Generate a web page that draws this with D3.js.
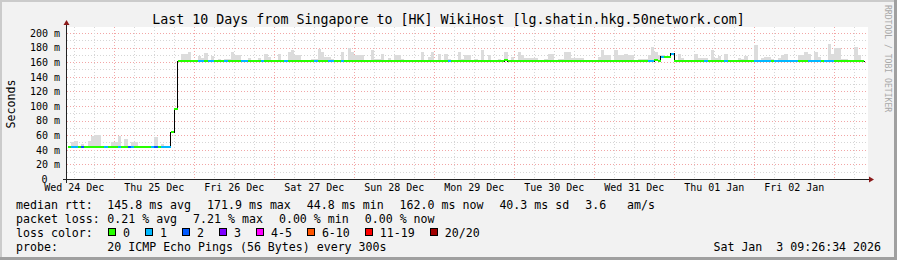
<!DOCTYPE html>
<html>
<head>
<meta charset="utf-8">
<script src="https://cdn.jsdelivr.net/npm/d3@7"></script>
<style>
  html, body { margin: 0; padding: 0; background: #f2f2f2; }
  svg text { font-family: "DejaVu Sans Mono", monospace; white-space: pre; }
</style>
</head>
<body>
<div id="chart"></div>
<script>
const _ = null; // no smoke above the median in that hour

// hourly bins, first one starts Dec 24 10:00, one row per calendar day
const firstBin = new Date(2025, 11, 24, 10);
const viewStart = new Date(2025, 11, 24, 9, 40);
const viewEnd = new Date(2026, 0, 3, 9, 40);

// highest ping of each bin (ms), the grey smoke
const smokeMax = [
  _, 51, 53, _, 49, _, 53, 60, 61, 61, _, _, _, 52,                                      // Dec 24
  52, 60, _, 55, _, 52, 52, _, _, _, _, _, 58, _, 49, _, _, _, _, _, 172, 172, 175, _,      // Dec 25
  _, 169, 166, 173, _, 169, _, 165, _, 165, 165, 175, 170, 170, _, _, 166, _, _, 167, _, 172, 168, _, // Dec 26
  _, 172, _, _, 175, 178, 170, 170, _, _, _, 165, 165, 179, 174, 168, 168, 165, _, _, 175, _, 180, 175, // Dec 27
  171, 171, 171, _, _, 178, 165, 165, 172, _, 166, _, 170, 170, 165, _, _, _, _, _, 175, _, 168, 175, // Dec 28
  _, 172, _, 172, 165, _, _, 174, 165, 170, 170, _, 165, _, 177, _, 170, _, _, 165, _, 175, _, 168,   // Dec 29
  _, 175, 170, 167, 167, 167, 167, _, _, 165, 172, 172, _, 165, 165, 175, 175, 167, 167, 167, 167, _, _, _, // Dec 30
  _, 168, 178, 170, 170, _, 178, 170, 170, 172, 170, 170, _, 165, 165, 165, 170, 182, 175, 170, 170, _, _, _, // Dec 31
  _, 172, 167, _, _, _, 172, 166, 166, 166, _, 177, 167, 169, _, 172, _, _, _, 166, 165, 169, _, _,   // Jan 01
  184, _, 166, 168, 168, 165, _, 167, 170, 172, _, _, _, 170, 170, 175, 172, _, 175, 168, _, _, 186, 172, // Jan 02
  180, 180, 165, 165, _, _, 182, 170, _                                                   // Jan 03
];

// median rtt of each bin (ms)
const median = [
  45, 45, 45, 45, 45, 45, 45, 45, 45, 45, 45, 45, 45, 45,
  45, 45, 45, 45, 45, 45, 45, 45, 45, 45, 45, 45, 45, 45, 45, 45, 45, 65, 97, 162, 162, 162, 162, 162,
  162, 162, 162, 162, 162, 162, 162, 162, 162, 162, 162, 162, 162, 162, 162, 162, 162, 162, 162, 162, 162, 162, 162, 162,
  162, 162, 162, 162, 162, 162, 162, 162, 162, 162, 162, 162, 162, 162, 162, 162, 162, 162, 162, 162, 162, 162, 162, 162,
  162, 162, 162, 162, 162, 162, 162, 162, 162, 162, 162, 162, 162, 162, 162, 162, 162, 162, 162, 162, 162, 162, 162, 162,
  162, 162, 162, 162, 162, 162, 162, 162, 162, 162, 162, 162, 162, 162, 162, 162, 162, 162, 162, 162, 162, 164, 162, 162,
  162, 162, 162, 162, 162, 162, 162, 162, 162, 162, 162, 162, 162, 162, 162, 162, 162, 162, 162, 162, 162, 162, 162, 162,
  162, 162, 162, 162, 162, 162, 162, 162, 162, 162, 162, 162, 162, 162, 162, 162, 162, 162, 164, 163, 168, 168, 168, 172,
  162, 162, 162, 162, 162, 162, 162, 162, 162, 162, 162, 162, 162, 162, 162, 162, 162, 162, 162, 162, 162, 162, 162, 162,
  162, 162, 162, 162, 162, 162, 162, 162, 162, 162, 162, 162, 162, 162, 162, 162, 162, 162, 162, 162, 162, 162, 162, 162,
  162, 162, 162, 162, 162, 162, 162, 162, 162
];

// lost pings (of 20) in each bin
const lossCount = [
  0, 1, 1, 0, 2, 0, 0, 0, 0, 0, 0, 1, 0, 0,
  0, 1, 0, 0, 2, 1, 0, 0, 0, 0, 0, 1, 2, 0, 1, 1, 1, 0, 0, 0, 0, 0, 0, 0,
  0, 1, 1, 0, 1, 1, 0, 0, 0, 1, 0, 0, 0, 0, 1, 1, 0, 0, 0, 0, 1, 0, 0, 0,
  0, 0, 0, 1, 0, 0, 0, 0, 0, 0, 0, 0, 1, 0, 0, 0, 1, 1, 0, 0, 1, 0, 0, 0,
  0, 0, 0, 0, 0, 0, 0, 0, 0, 0, 0, 0, 0, 0, 0, 0, 0, 0, 0, 0, 0, 0, 0, 0,
  0, 0, 0, 0, 1, 0, 0, 0, 0, 0, 0, 0, 0, 0, 0, 0, 0, 0, 0, 0, 0, 0, 0, 0,
  0, 0, 0, 0, 0, 0, 0, 0, 0, 0, 0, 0, 0, 0, 0, 0, 0, 0, 0, 0, 0, 0, 0, 0,
  0, 0, 0, 0, 0, 0, 0, 0, 0, 0, 0, 0, 0, 0, 0, 0, 1, 1, 0, 0, 1, 0, 0, 1,
  0, 0, 0, 0, 0, 0, 0, 0, 0, 1, 0, 0, 0, 0, 0, 1, 0, 0, 0, 0, 0, 0, 0, 0,
  1, 1, 1, 1, 1, 0, 1, 1, 1, 1, 1, 1, 1, 0, 0, 0, 1, 1, 1, 1, 0, 1, 1, 1,
  0, 0, 0, 0, 0, 0, 0, 0, 0
];

const yTicks = [0, 20, 40, 60, 80, 100, 120, 140, 160, 180, 200];
const dayLabels = ["Wed 24 Dec", "Thu 25 Dec", "Fri 26 Dec", "Sat 27 Dec", "Sun 28 Dec",
                   "Mon 29 Dec", "Tue 30 Dec", "Wed 31 Dec", "Thu 01 Jan", "Fri 02 Jan"];

const rttStats = ["145.8 ms avg", "171.9 ms max", "44.8 ms min", "162.0 ms now", "40.3 ms sd", "3.6   am/s"];
const lossStats = ["0.21 % avg", "7.21 % max", "0.00 % min", "0.00 % now"];
const lossLegend = ["0", "1", "2", "3", "4-5", "6-10", "11-19", "20/20"];
const lossColors = ["#26ff00", "#00b8ff", "#0059ff", "#7e00ff", "#ff00ff", "#ff5500", "#ff0000", "#a10000"];

const title = "Last 10 Days from Singapore to [HK] WikiHost [lg.shatin.hkg.50network.com]";
const probeText = "20 ICMP Echo Pings (56 Bytes) every 300s";
const stamp = "Sat Jan  3 09:26:34 2026";

const W = 897, H = 260;
const svg = d3.select('#chart').append('svg')
    .attr('width', W)
    .attr('height', H);

// frame
svg.append('rect').attr('width', W).attr('height', H).attr('fill', '#f2f2f2');
svg.append('rect').attr('x', 0).attr('y', 0).attr('width', W).attr('height', 2).attr('fill', '#cbcbcb');
svg.append('rect').attr('x', 0).attr('y', 0).attr('width', 2).attr('height', H).attr('fill', '#cbcbcb');
svg.append('rect').attr('x', 0).attr('y', H - 3).attr('width', W).attr('height', 3).attr('fill', '#a0a0a0');
svg.append('rect').attr('x', W - 3).attr('y', 0).attr('width', 3).attr('height', H).attr('fill', '#a0a0a0');

const x = d3.scaleTime().domain([viewStart, viewEnd]).range([66.5, 866.5]);
const y = d3.scaleLinear().domain([0, 208.9]).range([179.5, 27]);
const px = v => Math.floor(v) + 0.5;

// canvas
svg.append('rect')
    .attr('x', 67).attr('y', 27)
    .attr('width', 801).attr('height', 153)
    .attr('fill', '#ffffff');

const grid = svg.append('g').attr('shape-rendering', 'crispEdges');

// horizontal grid, minor every 10 ms, major every 20 ms
d3.range(10, 201, 10).forEach(v => {
    grid.append('line')
        .attr('x1', 67).attr('x2', 868)
        .attr('y1', px(y(v))).attr('y2', px(y(v)))
        .attr('stroke', v % 20 === 0 ? '#f2a6a6' : '#d6d6d6')
        .attr('stroke-dasharray', '1,2');
});

// vertical grid, minor every 6 hours, major at midnight
d3.timeHour.every(6).range(viewStart, viewEnd).forEach(t => {
    const major = t.getHours() === 0;
    grid.append('line')
        .attr('x1', px(x(t))).attr('x2', px(x(t)))
        .attr('y1', 27).attr('y2', 179)
        .attr('stroke', major ? '#f2a6a6' : '#d6d6d6')
        .attr('stroke-dasharray', '1,2');
});

const bins = median.map((m, i) => ({
    t0: d3.timeHour.offset(firstBin, i),
    t1: d3.timeHour.offset(firstBin, i + 1),
    med: m,
    top: smokeMax[i],
    loss: lossCount[i]
}));

// smoke
svg.append('g').attr('shape-rendering', 'crispEdges')
    .selectAll('rect')
    .data(bins.filter(b => b.top !== null && b.top > b.med))
    .join('rect')
    .attr('x', b => x(b.t0))
    .attr('width', b => x(b.t1) - x(b.t0))
    .attr('y', b => y(b.top))
    .attr('height', b => y(b.med) - y(b.top))
    .attr('fill', '#dcdcdc');

// black step line under the coloured median
const stepPts = bins.map(b => [b.t0, b.med]);
stepPts.push([bins[bins.length - 1].t1, bins[bins.length - 1].med]);
svg.append('path')
    .attr('d', d3.line().x(d => px(x(d[0]))).y(d => y(d[1])).curve(d3.curveStepAfter)(stepPts))
    .attr('fill', 'none')
    .attr('stroke', '#000')
    .attr('stroke-width', 1)
    .attr('shape-rendering', 'crispEdges');

function lossColor(n) {
    if (n <= 3) return lossColors[n];
    if (n <= 5) return lossColors[4];
    if (n <= 10) return lossColors[5];
    if (n <= 19) return lossColors[6];
    return lossColors[7];
}

svg.append('g')
    .selectAll('rect')
    .data(bins)
    .join('rect')
    .attr('x', b => x(b.t0))
    .attr('width', b => x(b.t1) - x(b.t0))
    .attr('y', b => Math.round(y(b.med)) - 1)
    .attr('height', 2)
    .attr('fill', b => lossColor(b.loss))
    .attr('shape-rendering', 'crispEdges');

// axes
const axis = svg.append('g').attr('shape-rendering', 'crispEdges');
axis.append('line').attr('x1', 63).attr('x2', 870).attr('y1', 179.5).attr('y2', 179.5).attr('stroke', '#222');
axis.append('line').attr('x1', 66.5).attr('x2', 66.5).attr('y1', 183).attr('y2', 24).attr('stroke', '#222');
svg.append('path').attr('d', 'M869,176.5 L874,179.5 L869,182.5 Z').attr('fill', '#8b1a1a');
svg.append('path').attr('d', 'M63.5,25 L66.5,20 L69.5,25 Z').attr('fill', '#8b1a1a');

// y tick labels; the zero has no unit and sits two columns further left
svg.append('g').selectAll('text')
    .data(yTicks)
    .join('text')
    .attr('x', d => d === 0 ? 47.5 : 60)
    .attr('y', d => y(d) + 3.3)
    .attr('text-anchor', 'end')
    .style('font-size', '10px')
    .attr('fill', '#000')
    .text(d => d === 0 ? '0' : d + ' m');

// day labels at noon
svg.append('g').selectAll('text')
    .data(dayLabels)
    .join('text')
    .attr('x', (d, i) => x(new Date(2025, 11, 24 + i, 12)))
    .attr('y', 191)
    .attr('text-anchor', 'middle')
    .style('font-size', '10px')
    .attr('fill', '#000')
    .text(d => d);

// title
svg.append('text')
    .attr('x', W / 2).attr('y', 23.8)
    .attr('text-anchor', 'middle')
    .style('font-size', '13.3px')
    .attr('fill', '#000')
    .text(title);

// y axis title
svg.append('text')
    .attr('transform', 'translate(14.5,104) rotate(-90)')
    .attr('text-anchor', 'middle')
    .style('font-size', '11.6px')
    .attr('fill', '#000')
    .text('Seconds');

// watermark
svg.append('text')
    .attr('transform', 'translate(885,5) rotate(90)')
    .style('font-size', '8.1px')
    .attr('fill', '#a8a8a8')
    .text('RRDTOOL / TOBI OETIKER');

// legend
const legend = svg.append('g').style('font-size', '11.6px').attr('fill', '#000');
const rows = [208.5, 222.5, 236.5, 250.5];
const colX = 107.3;

function statRow(label, items, yy) {
    legend.append('text').attr('x', 16).attr('y', yy).text(label);
    let cx = colX;
    items.forEach(s => {
        const t = legend.append('text').attr('x', cx).attr('y', yy).text(s);
        cx += t.node().getComputedTextLength() + 16;
    });
}
statRow('median rtt:', rttStats, rows[0]);
statRow('packet loss:', lossStats, rows[1]);

legend.append('text').attr('x', 16).attr('y', rows[2]).text('loss color:');
let sx = 108;
lossLegend.forEach((lab, i) => {
    legend.append('rect')
        .attr('x', sx + 0.5).attr('y', 228.5)
        .attr('width', 7).attr('height', 7)
        .attr('fill', lossColors[i])
        .attr('stroke', '#000')
        .attr('stroke-width', 1)
        .attr('shape-rendering', 'crispEdges');
    const t = legend.append('text').attr('x', sx + 15).attr('y', rows[2]).text(lab);
    sx = sx + 15 + t.node().getComputedTextLength() + 15;
});

legend.append('text').attr('x', 16).attr('y', rows[3]).text('probe:');
legend.append('text').attr('x', colX).attr('y', rows[3]).text(probeText);
legend.append('text').attr('x', 881).attr('y', rows[3]).attr('text-anchor', 'end').text(stamp);
</script>
</body>
</html>
